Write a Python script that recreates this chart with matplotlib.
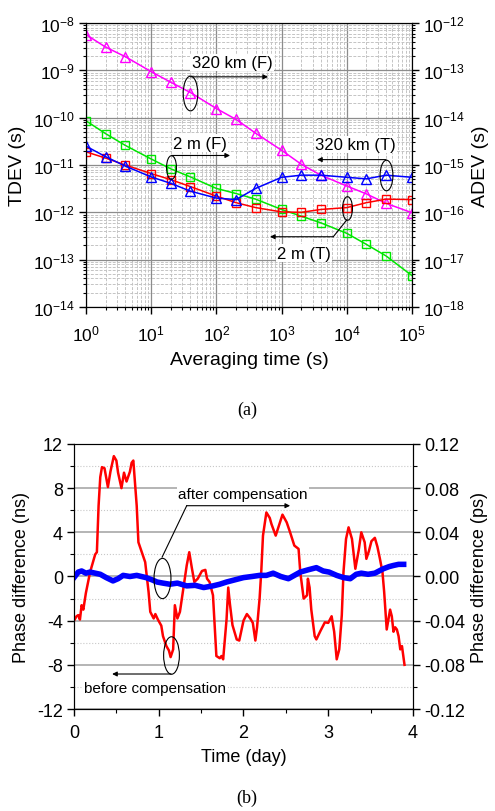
import numpy as np
import matplotlib
matplotlib.use('Agg')
import matplotlib.pyplot as plt
from matplotlib.path import Path
from matplotlib.ticker import MultipleLocator, LogLocator, NullFormatter, FixedLocator

plt.rcParams['font.family'] = ['Liberation Sans', 'DejaVu Sans']
plt.rcParams['mathtext.fontset'] = 'custom'
plt.rcParams['mathtext.rm'] = 'Liberation Sans'
plt.rcParams['mathtext.it'] = 'Liberation Sans:italic'
plt.rcParams['mathtext.bf'] = 'Liberation Sans:bold'
plt.rcParams['mathtext.default'] = 'regular'
plt.rcParams['axes.unicode_minus'] = False

# ---- (a) stability data ----
tau = [1, 2, 4, 10, 20, 40, 100, 200, 400, 1e3, 2e3, 4e3, 1e4, 2e4, 4e4, 1e5]
tdev_320km_F = [5.7e-9, 3.1e-9, 1.95e-9, 9.4e-10, 5.6e-10, 3.4e-10, 1.56e-10, 9.2e-11,
                4.7e-11, 2.05e-11, 1.04e-11, 6.1e-12, 3.6e-12, 2.45e-12, 1.55e-12, 9.8e-13]
tdev_320km_T = [2.5e-11, 1.5e-11, 9.5e-12, 5.6e-12, 4.1e-12, 2.8e-12, 2.0e-12, 1.86e-12,
                3.2e-12, 5.5e-12, 6.1e-12, 6.1e-12, 5.5e-12, 5.1e-12, 6.1e-12, 5.5e-12]
tdev_2m_T = [1.9e-11, 1.4e-11, 1.0e-11, 6.6e-12, 4.9e-12, 3.5e-12, 2.2e-12, 1.6e-12,
             1.26e-12, 1.02e-12, 1.0e-12, 1.15e-12, 1.26e-12, 1.6e-12, 1.9e-12, 1.86e-12]
tdev_2m_F = [8.6e-11, 4.6e-11, 2.6e-11, 1.34e-11, 8.3e-12, 5.6e-12, 3.2e-12, 2.5e-12,
             1.9e-12, 1.15e-12, 8.3e-13, 6.0e-13, 3.6e-13, 2.1e-13, 1.2e-13, 4.6e-14]
tdev_ticks = [1e-14, 1e-13, 1e-12, 1e-11, 1e-10, 1e-9, 1e-8]
adev_ticks = [1e-18, 1e-17, 1e-16, 1e-15, 1e-14, 1e-13, 1e-12]
tau_ticks = [1, 10, 100, 1e3, 1e4, 1e5]

# ---- (b) phase data ----
red_t = [0.00, 0.03, 0.05, 0.07, 0.09, 0.11, 0.14, 0.19, 0.25, 0.27, 0.29, 0.31, 0.33, 0.36,
         0.40, 0.43, 0.47, 0.50, 0.52, 0.56, 0.59, 0.62, 0.66, 0.68, 0.70, 0.72, 0.74, 0.76,
         0.80, 0.84, 0.88, 0.90, 0.94, 0.96, 0.99, 1.03, 1.05, 1.09, 1.12, 1.14, 1.17, 1.19,
         1.22, 1.25, 1.29, 1.33, 1.36, 1.39, 1.42, 1.46, 1.51, 1.55, 1.57, 1.60, 1.64, 1.66,
         1.68, 1.72, 1.74, 1.76, 1.80, 1.82, 1.84, 1.87, 1.92, 1.95, 2.00, 2.04, 2.08, 2.11,
         2.14, 2.16, 2.19, 2.21, 2.23, 2.27, 2.31, 2.33, 2.38, 2.43, 2.46, 2.51, 2.55, 2.60,
         2.65, 2.67, 2.69, 2.71, 2.75, 2.76, 2.78, 2.80, 2.84, 2.86, 2.91, 2.96, 3.00, 3.04,
         3.07, 3.10, 3.13, 3.16, 3.18, 3.21, 3.24, 3.28, 3.32, 3.36, 3.39, 3.43, 3.45, 3.48,
         3.51, 3.55, 3.58, 3.61, 3.64, 3.66, 3.69, 3.73, 3.75, 3.77, 3.79, 3.81, 3.83, 3.85,
         3.87, 3.90]
red_v = [-4.0, -3.6, -3.5, -3.9, -2.6, -3.0, -1.5, 0.4, 2.0, 2.2, 6.4, 9.0, 9.9, 9.8,
         8.1, 9.5, 10.9, 10.5, 9.4, 8.0, 9.4, 8.6, 9.5, 10.3, 10.5, 8.5, 6.4, 3.1,
         2.2, 1.3, -1.4, -3.2, -3.8, -3.4, -3.9, -4.45, -5.4, -6.3, -6.7, -7.3, -6.6, -2.6,
         -3.8, -3.2, -1.1, 1.0, 2.2, 0.8, -0.5, -0.2, 0.5, 0.6, -0.2, -0.5, -1.7, -4.45,
         -7.2, -7.4, -7.2, -7.5, -3.9, -1.0, -2.5, -4.4, -5.7, -5.8, -4.0, -3.4, -3.8, -4.2,
         -5.8, -4.6, -2.0, 0.5, 3.7, 5.8, 5.3, 4.75, 3.7, 4.9, 5.6, 4.9, 4.0, 2.8,
         2.5, 0.4, -0.8, -2.0, -1.7, -0.2, -1.0, -3.0, -5.4, -5.7, -4.9, -4.15, -4.2, -3.6,
         -5.0, -7.5, -6.6, -3.5, 0.4, 3.4, 4.45, 3.4, 0.7, 2.4, 4.0, 3.1, 1.6, 2.3,
         3.2, 3.5, 2.7, 1.6, 0.4, -1.4, -4.8, -3.0, -3.6, -5.0, -4.6, -4.8, -5.4, -6.6,
         -6.3, -8.0]
blue_t = [0.00, 0.05, 0.09, 0.14, 0.19, 0.25, 0.31, 0.38, 0.46, 0.52, 0.58, 0.66, 0.74, 0.85,
          0.92, 0.98, 1.05, 1.13, 1.22, 1.33, 1.43, 1.53, 1.64, 1.72, 1.80, 1.90, 2.00, 2.10,
          2.19, 2.27, 2.35, 2.44, 2.53, 2.60, 2.67, 2.76, 2.86, 2.94, 3.01, 3.10, 3.18, 3.26,
          3.33, 3.39, 3.47, 3.55, 3.65, 3.72, 3.77, 3.83, 3.89]
blue_v = [-0.1, 0.4, 0.5, 0.3, 0.4, 0.3, 0.2, -0.1, -0.4, -0.2, 0.1, 0.0, 0.1, -0.1,
          -0.3, -0.5, -0.6, -0.7, -0.6, -0.85, -0.8, -1.0, -0.85, -0.7, -0.5, -0.3, -0.1, 0.0,
          0.1, 0.1, 0.3, 0.0, -0.2, 0.1, 0.4, 0.6, 0.8, 0.5, 0.4, 0.1, -0.1, -0.2,
          0.2, 0.3, 0.2, 0.3, 0.7, 0.9, 1.0, 1.1, 1.1]

# elliptical marker used for the callout rings
circ = Path.unit_circle()
ellipse_mark = Path(circ.vertices * np.array([0.42, 1.0]), circ.codes)

fig = plt.figure(figsize=(4.95, 8.12), dpi=100)

# ================= (a) =================
ax = fig.add_axes([0.1737, 0.6207, 0.6586, 0.3497])
ax.set_xscale('log')
ax.set_yscale('log')
ax.set_xlim(1, 1e5)
ax.set_ylim(1e-14, 1e-8)
ax.grid(True, which='major', color='#8c8c8c', lw=0.9, ls='-')
ax.grid(True, which='minor', color='#c4c4c4', lw=0.7, ls='--', dashes=(3, 1.5))
ax.set_axisbelow(True)

ax.plot(tau, tdev_320km_F, '-^', color='#ff00ff', mfc='none', ms=6.5, lw=1.1, mew=1.0)
ax.plot(tau, tdev_2m_F, '-s', color='#00e600', mfc='none', ms=5.5, lw=1.1, mew=1.0)
ax.plot(tau, tdev_2m_T, '-s', color='#ff0000', mfc='none', ms=5.5, lw=1.1, mew=1.0)
ax.plot(tau, tdev_320km_T, '-^', color='#0000ff', mfc='none', ms=6.5, lw=1.1, mew=1.0)

ax.xaxis.set_major_locator(FixedLocator(tau_ticks))
ax.xaxis.set_minor_locator(LogLocator(base=10, subs=np.arange(2, 10), numticks=10))
ax.yaxis.set_major_locator(FixedLocator(tdev_ticks))
ax.yaxis.set_minor_locator(LogLocator(base=10, subs=np.arange(2, 10), numticks=10))
ax.xaxis.set_minor_formatter(NullFormatter())
ax.yaxis.set_minor_formatter(NullFormatter())
ax.tick_params(which='major', labelsize=12.5, length=5, width=1, pad=3)
ax.tick_params(axis='x', which='major', pad=7)
ax.tick_params(which='minor', length=2.5, width=0.8)
ax.set_xlabel('Averaging time (s)', fontsize=14, labelpad=5)
ax.set_ylabel('TDEV (s)', fontsize=14, labelpad=5)

ax2 = ax.twinx()
ax2.set_yscale('log')
ax2.set_ylim(1e-18, 1e-12)
ax2.yaxis.set_major_locator(FixedLocator(adev_ticks))
ax2.yaxis.set_minor_locator(LogLocator(base=10, subs=np.arange(2, 10), numticks=10))
ax2.yaxis.set_minor_formatter(NullFormatter())
ax2.tick_params(which='major', labelsize=12.5, length=5, width=1, pad=3)
ax2.tick_params(which='minor', length=2.5, width=0.8)
ax2.set_ylabel('ADEV (s)', fontsize=14, labelpad=5)

bb = dict(fc='white', ec='none', pad=1.0)
arr = dict(arrowstyle='-|>', lw=0.8, color='k', mutation_scale=7, shrinkA=0, shrinkB=0)

# 320 km (F)
ax.plot([tau[5]], [tdev_320km_F[5]], marker=ellipse_mark, ms=25, mfc='none', mec='k', mew=0.8, ls='none')
ax.annotate('', xy=(620, 7.3e-10), xytext=(40, 7.3e-10), arrowprops=arr)
ax.text(174, 1.47e-9, '320 km (F)', fontsize=12, ha='center', va='center', bbox=bb)
# 2 m (F)
ax.plot([tau[4]], [9.3e-12], marker=ellipse_mark, ms=17, mfc='none', mec='k', mew=0.8, ls='none')
ax.annotate('', xy=(162, 1.59e-11), xytext=(20.6, 1.59e-11), arrowprops=arr)
ax.text(56, 2.9e-11, '2 m (F)', fontsize=12, ha='center', va='center', bbox=bb)
# 320 km (T)
ax.plot([tau[14]], [tdev_320km_T[14]], marker=ellipse_mark, ms=22, mfc='none', mec='k', mew=0.8, ls='none')
ax.annotate('', xy=(3500, 1.3e-11), xytext=(4e4, 1.3e-11), arrowprops=arr)
ax.text(13500, 2.7e-11, '320 km (T)', fontsize=12, ha='center', va='center', bbox=bb)
# 2 m (T)
ax.plot([tau[12]], [tdev_2m_T[12]], marker=ellipse_mark, ms=17, mfc='none', mec='k', mew=0.8, ls='none')
ax.plot([1e4, 6200], [6.9e-13, 3.05e-13], color='k', lw=0.8)
ax.annotate('', xy=(664, 3.05e-13), xytext=(6200, 3.05e-13), arrowprops=arr)
ax.text(2200, 1.38e-13, '2 m (T)', fontsize=12, ha='center', va='center', bbox=bb)

fig.text(0.499, 0.495, '(a)', fontsize=13, ha='center', va='center', family='Liberation Serif')

# ================= (b) =================
bx = fig.add_axes([0.1495, 0.1256, 0.6848, 0.3264])
bx.set_xlim(0, 4)
bx.set_ylim(-12, 12)
bx.yaxis.set_major_locator(MultipleLocator(4))
bx.yaxis.set_minor_locator(MultipleLocator(2))
bx.xaxis.set_major_locator(MultipleLocator(1))
bx.xaxis.set_minor_locator(MultipleLocator(0.5))
bx.grid(True, axis='y', which='major', color='#a8a8a8', lw=1.2)
bx.grid(True, axis='y', which='minor', color='#c8c8c8', lw=0.8, ls=':')
bx.set_axisbelow(True)
bx.spines['top'].set_color('#555555')

bx.plot(red_t, red_v, color='#ff0000', lw=1.8, zorder=3)
bx.plot(blue_t, blue_v, color='#0000ff', lw=4.0, solid_joinstyle='round', zorder=4)

bx.tick_params(which='major', labelsize=13, length=5, width=1, pad=3)
bx.tick_params(axis='x', which='major', pad=6)
bx.tick_params(which='minor', length=3, width=0.8)
bx.set_xlabel('Time (day)', fontsize=13, labelpad=5)
bx.set_ylabel('Phase difference (ns)', fontsize=13, labelpad=5)

bx2 = bx.twinx()
bx2.set_ylim(-0.12, 0.12)
bx2.yaxis.set_major_locator(MultipleLocator(0.04))
bx2.yaxis.set_minor_locator(MultipleLocator(0.02))
bx2.yaxis.set_major_formatter(matplotlib.ticker.FormatStrFormatter('%.2f'))
bx2.tick_params(which='major', labelsize=13, length=5, width=1, pad=3)
bx2.tick_params(which='minor', length=3, width=0.8)
bx2.set_ylabel('Phase difference (ps)', fontsize=13, labelpad=4)

# after compensation callout
bx.plot([1.04], [-0.1], marker=ellipse_mark, ms=29, mfc='none', mec='k', mew=0.8, ls='none', zorder=5)
bx.plot([1.04, 1.33], [1.76, 6.41], color='k', lw=0.8, zorder=5)
bx.annotate('', xy=(2.55, 6.41), xytext=(1.33, 6.41), arrowprops=arr, zorder=5)
bx.text(1.99, 7.5, 'after compensation', fontsize=11, ha='center', va='center', bbox=bb, zorder=2)
# before compensation callout
bx.plot([1.145], [-7.1], marker=ellipse_mark, ms=27, mfc='none', mec='k', mew=0.8, ls='none', zorder=5)
bx.annotate('', xy=(0.45, -8.83), xytext=(1.145, -8.83), arrowprops=arr, zorder=5)
bx.text(0.96, -10.1, 'before compensation', fontsize=11, ha='center', va='center', bbox=bb, zorder=2)

fig.text(0.499, 0.017, '(b)', fontsize=13, ha='center', va='center', family='Liberation Serif')

fig.savefig('out.png', dpi=100)
